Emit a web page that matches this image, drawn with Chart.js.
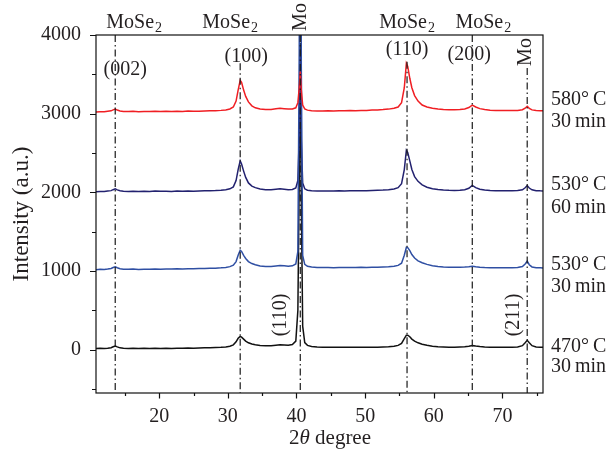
<!DOCTYPE html>
<html>
<head>
<meta charset="utf-8">
<script src="https://cdn.jsdelivr.net/npm/chart.js@4/dist/chart.umd.min.js"></script>
<style>
html,body{margin:0;padding:0;background:#fff;}
canvas{display:block;}
</style>
</head>
<body>
<canvas id="c" width="611" height="460"></canvas>
<script>
// 2θ positions (degrees), shared by all four patterns
const twoTheta = [
 10.8, 11.4, 12.0, 12.5, 13.0, 13.3, 13.6, 13.9, 14.3, 14.8,
 15.5, 16.2, 17.0, 17.8, 18.6, 19.4, 20.2, 21.0, 21.8, 22.6,
 23.4, 24.2, 25.0, 25.8, 26.6, 27.4, 28.2, 29.0, 29.7, 30.3,
 30.8, 31.2, 31.5, 31.8, 32.0, 32.3, 32.6, 33.0, 33.5, 34.0,
 34.7, 35.5, 36.3, 37.0, 37.6, 38.2, 38.8, 39.4, 39.9, 40.2,
 40.4, 40.55, 40.7, 40.9, 41.2, 41.6, 42.2, 43.0, 43.8, 44.6,
 45.4, 46.2, 47.0, 47.8, 48.6, 49.4, 50.2, 51.0, 51.8, 52.6,
 53.4, 54.2, 54.8, 55.3, 55.7, 56.0, 56.2, 56.5, 56.8, 57.2,
 57.7, 58.3, 59.0, 59.8, 60.6, 61.4, 62.2, 63.0, 63.8, 64.5,
 65.1, 65.6, 66.1, 66.7, 67.4, 68.2, 69.0, 69.8, 70.6, 71.4,
 72.2, 72.9, 73.3, 73.6, 73.9, 74.3, 74.9, 75.5, 76.0
];
// 580 °C, 30 min (offset pattern)
const int580_30 = [
 3022, 3026, 3024, 3030, 3036, 3048, 3058, 3046, 3034, 3028,
 3027, 3031, 3026, 3029, 3027, 3032, 3028, 3030, 3027, 3031,
 3029, 3033, 3030, 3032, 3034, 3036, 3038, 3042, 3048, 3060,
 3085, 3160, 3300, 3425, 3400, 3300, 3220, 3150, 3100, 3075,
 3060, 3052, 3052, 3062, 3070, 3064, 3058, 3060, 3075, 3140,
 3330, 3535, 3300, 3110, 3060, 3045, 3038, 3035, 3034, 3036,
 3035, 3037, 3036, 3039, 3038, 3041, 3042, 3046, 3048, 3052,
 3058, 3068, 3085, 3140, 3330, 3640, 3600, 3450, 3330, 3230,
 3160, 3110, 3085, 3070, 3060, 3054, 3051, 3050, 3054, 3060,
 3078, 3108, 3085, 3064, 3052, 3045, 3042, 3040, 3039, 3040,
 3042, 3050, 3070, 3095, 3068, 3048, 3040, 3038, 3037
];
// 530 °C, 60 min
const int530_60 = [
 2008, 2012, 2010, 2016, 2022, 2034, 2044, 2032, 2020, 2014,
 2012, 2015, 2011, 2014, 2012, 2016, 2013, 2015, 2012, 2016,
 2014, 2017, 2015, 2018, 2019, 2021, 2023, 2027, 2033, 2045,
 2070, 2150, 2290, 2400, 2360, 2270, 2190, 2120, 2080, 2060,
 2042, 2034, 2032, 2040, 2046, 2040, 2034, 2036, 2055, 2150,
 2700, 3750, 2650, 2120, 2045, 2028, 2020, 2018, 2017, 2018,
 2017, 2019, 2018, 2020, 2019, 2021, 2022, 2024, 2026, 2029,
 2034, 2044, 2060, 2110, 2290, 2535, 2505, 2400, 2290, 2200,
 2140, 2095, 2065, 2045, 2035, 2029, 2026, 2025, 2027, 2034,
 2052, 2088, 2060, 2040, 2030, 2024, 2021, 2020, 2019, 2020,
 2023, 2032, 2058, 2086, 2055, 2032, 2022, 2019, 2018
];
// 530 °C, 30 min
const int530_30 = [
 1018, 1022, 1020, 1025, 1032, 1045, 1055, 1042, 1030, 1024,
 1022, 1025, 1021, 1024, 1023, 1026, 1024, 1027, 1025, 1028,
 1027, 1030, 1028, 1031, 1033, 1035, 1037, 1041, 1046, 1056,
 1075, 1120, 1200, 1265, 1250, 1200, 1160, 1120, 1095, 1080,
 1064, 1057, 1057, 1064, 1070, 1066, 1060, 1066, 1090, 1250,
 3800, 9000, 3600, 1200, 1085, 1060, 1050, 1046, 1044, 1044,
 1043, 1045, 1044, 1046, 1045, 1047, 1046, 1048, 1049, 1052,
 1055, 1062, 1072, 1100, 1200, 1300, 1298, 1260, 1210, 1165,
 1130, 1105, 1085, 1068, 1058, 1052, 1049, 1048, 1049, 1051,
 1055, 1062, 1055, 1049, 1045, 1043, 1042, 1041, 1041, 1042,
 1045, 1058, 1090, 1125, 1080, 1052, 1043, 1041, 1040
];
// 470 °C, 30 min
const int470_30 = [
 14, 18, 16, 20, 26, 38, 48, 36, 24, 18,
 16, 19, 15, 18, 16, 20, 17, 19, 16, 20,
 18, 21, 19, 22, 24, 26, 28, 31, 36, 45,
 62, 100, 145, 170, 160, 135, 110, 88, 72, 62,
 54, 50, 50, 56, 62, 60, 58, 66, 110, 500,
 2200, 3900, 1900, 300, 90, 55, 42, 36, 33, 32,
 31, 32, 30, 31, 30, 32, 31, 32, 33, 35,
 38, 44, 55, 80, 140, 185, 185, 165, 135, 110,
 88, 70, 56, 45, 38, 35, 33, 33, 35, 38,
 44, 52, 46, 40, 36, 33, 32, 31, 31, 32,
 36, 52, 90, 120, 90, 52, 36, 32, 30
];
// reference peak positions (dash-dot guide lines) and where each guide starts
const peakPos = [13.6, 31.8, 40.55, 56.1, 65.6, 73.6];
const guideTop = [4000, 3640, 4000, 3660, 4000, 3580];
const guideBottom = -550;
// tick labels
const xTickLabels = [20, 30, 40, 50, 60, 70];
const yTickLabels = [0, 1000, 2000, 3000, 4000];
const seriesNames = ['580°\u2009C|30\u2009min', '530°\u2009C|60\u2009min', '530°\u2009C|30\u2009min', '470°\u2009C|30\u2009min'];

const FONT = '"Liberation Serif", "DejaVu Serif", serif';
const TXT = '#231f20';

function toXY(ys){ return twoTheta.map((x,i)=>({x:x,y:ys[i]})); }

const guideSets = peakPos.map((p,i)=>({
  data:[{x:p,y:guideTop[i]},{x:p,y:guideBottom}],
  borderColor:'#1a1a1a', borderWidth:1.2, borderDash:[7,3,1.5,3],
  pointRadius:0, order:0
}));

const series = [
  {data:toXY(int580_30), borderColor:'#f01e23', order:1},
  {data:toXY(int530_30), borderColor:'#2f4fa3', order:2},
  {data:toXY(int530_60), borderColor:'#22216f', order:3},
  {data:toXY(int470_30), borderColor:'#111111', order:4}
].map(d=>Object.assign(d,{borderWidth:1.5, pointRadius:0, tension:0}));

function drawMoSe2(ctx, cx, base){
  ctx.font = '20px ' + FONT;
  const w1 = ctx.measureText('MoSe').width;
  ctx.font = '14px ' + FONT;
  const w2 = ctx.measureText('2').width;
  const s = cx - (w1 + w2 + 1)/2;
  ctx.textAlign = 'left'; ctx.textBaseline = 'alphabetic';
  ctx.font = '20px ' + FONT;
  ctx.fillText('MoSe', s, base);
  ctx.font = '14px ' + FONT;
  ctx.fillText('2', s + w1 + 1, base + 4);
}
function rotText(ctx, txt, cx, cy){
  ctx.save(); ctx.translate(cx, cy); ctx.rotate(-Math.PI/2);
  ctx.textAlign='center'; ctx.textBaseline='middle';
  ctx.fillText(txt, 0, 0); ctx.restore();
}

const decor = {
  id:'decor',
  afterDraw(chart){
    const ctx = chart.ctx, a = chart.chartArea;
    const xs = chart.scales.x, ys = chart.scales.y;
    ctx.save();
    ctx.strokeStyle = '#111'; ctx.lineWidth = 1.2;
    ctx.strokeRect(a.left, a.top, a.right - a.left, a.bottom - a.top);
    // ticks
    ctx.beginPath();
    for (let v = 15; v <= 75; v += 5){
      const px = Math.round(xs.getPixelForValue(v)) + 0.5;
      const len = (v % 10 === 0) ? 5.5 : 3;
      ctx.moveTo(px, a.bottom); ctx.lineTo(px, a.bottom + len);
    }
    for (let v = -500; v <= 4000; v += 500){
      const py = Math.round(ys.getPixelForValue(v)) + 0.5;
      const len = (v % 1000 === 0) ? 6 : 4;
      ctx.moveTo(a.left, py); ctx.lineTo(a.left - len, py);
    }
    ctx.stroke();

    ctx.fillStyle = TXT;
    // phase labels above the frame
    const px = i => xs.getPixelForValue(peakPos[i]);
    drawMoSe2(ctx, px(0) + 19, 28);
    drawMoSe2(ctx, px(1) - 10, 28);
    drawMoSe2(ctx, px(3), 28);
    drawMoSe2(ctx, px(4) + 11, 28);
    ctx.font = '20px ' + FONT;
    rotText(ctx, 'Mo', px(2), 17);
    // reflection indices
    ctx.textAlign='center'; ctx.textBaseline='middle';
    ctx.fillText('(002)', px(0) + 10, 70);
    ctx.fillText('(100)', px(1) + 6, 57);
    ctx.fillText('(110)', px(3), 50);
    ctx.fillText('(200)', px(4) - 3, 55);
    rotText(ctx, 'Mo', px(5) - 1, 52);
    rotText(ctx, '(110)', px(2) - 20, 315);
    rotText(ctx, '(211)', px(5) - 13, 315);
    // sample labels on the right
    ctx.textAlign='left'; ctx.textBaseline='middle';
    const rows = [[100,122],[185,208],[265,287],[347,367]];
    seriesNames.forEach((n,i)=>{
      const parts = n.split('|');
      ctx.fillText(parts[0], a.right + 8, rows[i][0]);
      ctx.fillText(parts[1], a.right + 8, rows[i][1]);
    });
    // axis titles
    ctx.font = '23px ' + FONT;
    rotText(ctx, 'Intensity (a.u.)', 22, (a.top + a.bottom)/2);
    ctx.textBaseline='middle'; ctx.textAlign='left';
    const t1 = '2', t2 = 'θ', t3 = ' degree';
    ctx.font = '21px ' + FONT; const w1 = ctx.measureText(t1).width, w3 = ctx.measureText(t3).width;
    ctx.font = 'italic 21px ' + FONT; const w2 = ctx.measureText(t2).width;
    let sx = 330 - (w1 + w2 + w3)/2;
    ctx.font = '21px ' + FONT; ctx.fillText(t1, sx, 438); sx += w1;
    ctx.font = 'italic 21px ' + FONT; ctx.fillText(t2, sx, 438); sx += w2;
    ctx.font = '21px ' + FONT; ctx.fillText(t3, sx, 438);
    ctx.restore();
  }
};

new Chart(document.getElementById('c'), {
  type:'line',
  data:{ datasets: guideSets.concat(series) },
  options:{
    responsive:false, animation:false, devicePixelRatio:1,
    layout:{ padding:{ top:35, right:68, left:0, bottom:0 } },
    plugins:{ legend:{display:false}, tooltip:{enabled:false} },
    scales:{
      x:{ type:'linear', min:10.8, max:75.9,
          grid:{display:false, drawTicks:false}, border:{display:false},
          afterFit(s){ s.height = 67; },
          afterBuildTicks(s){ s.ticks = xTickLabels.map(v=>({value:v})); },
          ticks:{ padding:12, maxRotation:0, autoSkip:false, color:TXT,
                  callback:v=>String(v), font:{family:FONT, size:20} } },
      y:{ type:'linear', min:-550, max:4000,
          grid:{display:false, drawTicks:false}, border:{display:false},
          afterFit(s){ s.width = 96; },
          afterBuildTicks(s){ s.ticks = yTickLabels.map(v=>({value:v})); },
          ticks:{ padding:15, color:TXT, callback:v=>String(v),
                  font:{family:FONT, size:20} } }
    }
  },
  plugins:[decor]
});
</script>
</body>
</html>
